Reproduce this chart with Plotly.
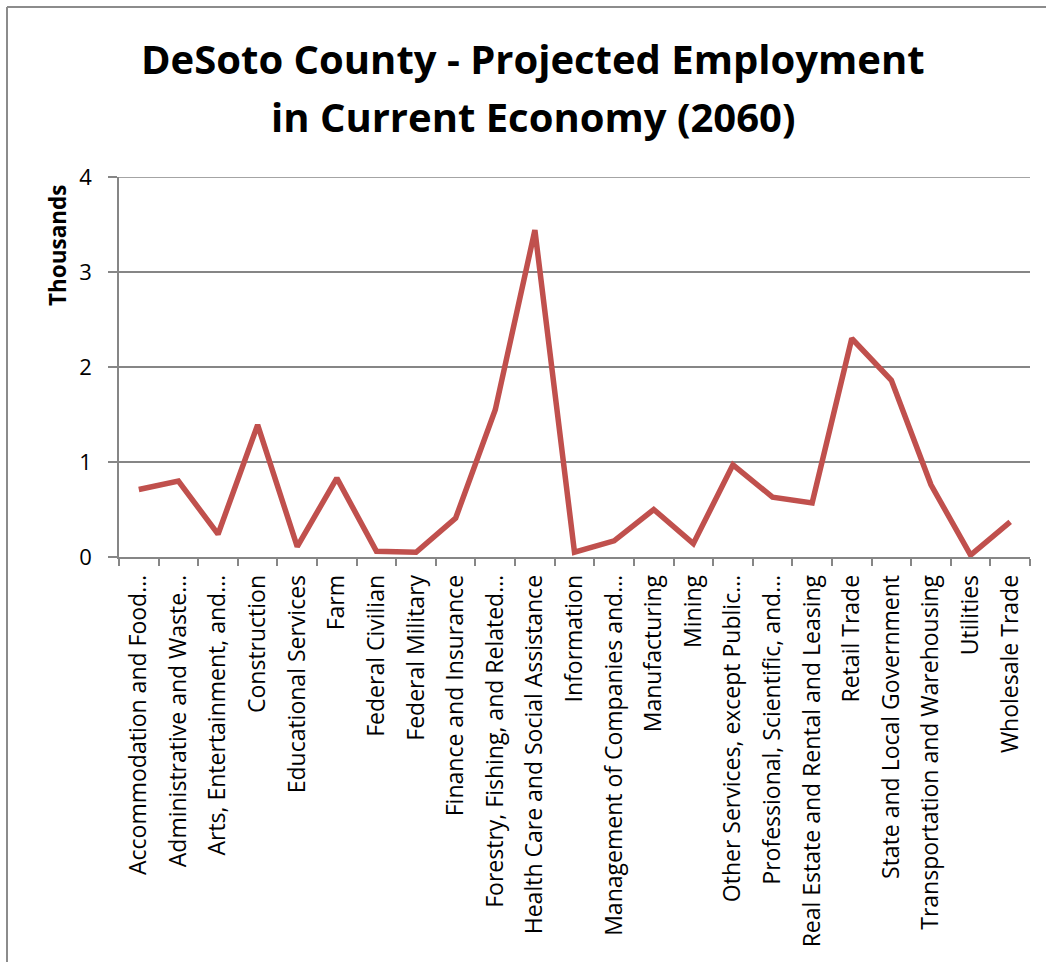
import plotly.graph_objects as go

# Industry categories (labels as shown on the axis, long names shortened)
categories = [
    "Accommodation and Food…",
    "Administrative and Waste…",
    "Arts, Entertainment, and…",
    "Construction",
    "Educational Services",
    "Farm",
    "Federal Civilian",
    "Federal Military",
    "Finance and Insurance",
    "Forestry, Fishing, and Related…",
    "Health Care and Social Assistance",
    "Information",
    "Management of Companies and…",
    "Manufacturing",
    "Mining",
    "Other Services, except Public…",
    "Professional, Scientific, and…",
    "Real Estate and Rental and Leasing",
    "Retail Trade",
    "State and Local Government",
    "Transportation and Warehousing",
    "Utilities",
    "Wholesale Trade",
]

# Projected employment in 2060, thousands of jobs
employment_thousands = [
    0.71, 0.80, 0.24, 1.39, 0.11, 0.83, 0.06, 0.05, 0.41, 1.55,
    3.44, 0.05, 0.17, 0.50, 0.14, 0.97, 0.63, 0.57, 2.30, 1.86,
    0.76, 0.02, 0.37,
]

y_ticks = [0, 1, 2, 3, 4]

title_lines = ["DeSoto County - Projected Employment", "in Current Economy (2060)"]
y_title = "Thousands"

FONT = "Open Sans"
GRID = "#868686"

fig = go.Figure(
    go.Scatter(
        x=categories,
        y=employment_thousands,
        mode="lines",
        line=dict(color="#C0504D", width=5.5),
        hoverinfo="x+y",
    )
)

# plot area in pixels: x 119..1030, y 177..557
W, H = 1046, 962
L, R, T, B = 119, W - 1030, 177, H - 557
pw, ph = W - L - R, H - T - B

def px_x(px):
    return (px - L) / pw

def px_y(py):
    return (H - B - py) / ph

fig.update_layout(
    width=W,
    height=H,
    margin=dict(l=L, r=R, t=T, b=B, pad=0),
    paper_bgcolor="white",
    plot_bgcolor="white",
    showlegend=False,
    font=dict(family=FONT, color="black"),
    xaxis=dict(
        type="category",
        showgrid=False,
        showline=True,
        linecolor=GRID,
        linewidth=1.5,
        ticks="outside",
        tickson="boundaries",
        ticklen=7,
        tickcolor=GRID,
        tickwidth=1.5,
        tickangle=-90,
        ticklabelstandoff=7,
        tickfont=dict(size=23, family=FONT),
        range=[-0.5, len(categories) - 0.5],
        fixedrange=True,
    ),
    yaxis=dict(
        range=[0, 4],
        tickvals=y_ticks,
        ticktext=[str(v) for v in y_ticks],
        showgrid=True,
        gridcolor=GRID,
        gridwidth=1.5,
        showline=True,
        linecolor=GRID,
        linewidth=1.5,
        ticks="outside",
        ticklen=9,
        tickcolor=GRID,
        tickwidth=1.5,
        ticklabelstandoff=12,
        tickfont=dict(size=22, family=FONT),
        zeroline=False,
        fixedrange=True,
    ),
    annotations=[
        dict(
            text="<b>%s</b>" % title_lines[0],
            x=px_x(533), y=px_y(59), xref="paper", yref="paper",
            xanchor="center", yanchor="middle", showarrow=False,
            font=dict(size=40, family=FONT, color="black"),
        ),
        dict(
            text="<b>%s</b>" % title_lines[1],
            x=px_x(533), y=px_y(116), xref="paper", yref="paper",
            xanchor="center", yanchor="middle", showarrow=False,
            font=dict(size=40, family=FONT, color="black"),
        ),
        dict(
            text="<b>%s</b>" % y_title,
            x=px_x(57), y=px_y(245), xref="paper", yref="paper",
            xanchor="center", yanchor="middle", showarrow=False,
            textangle=-90,
            font=dict(size=22.5, family=FONT, color="black"),
        ),
    ],
    shapes=[
        # top gridline at the upper edge of the value range
        dict(type="line", xref="paper", yref="y",
             x0=-9 / pw, x1=1, y0=4, y1=4,
             line=dict(color=GRID, width=1.5)),
        # chart frame (left and top edges)
        dict(type="line", xref="paper", yref="paper",
             x0=px_x(7), y0=px_y(970), x1=px_x(7), y1=px_y(7),
             line=dict(color="#8C8C8C", width=2)),
        dict(type="line", xref="paper", yref="paper",
             x0=px_x(7), y0=px_y(7), x1=px_x(1060), y1=px_y(7),
             line=dict(color="#8C8C8C", width=2)),
    ],
)

fig.write_html("out.html")
